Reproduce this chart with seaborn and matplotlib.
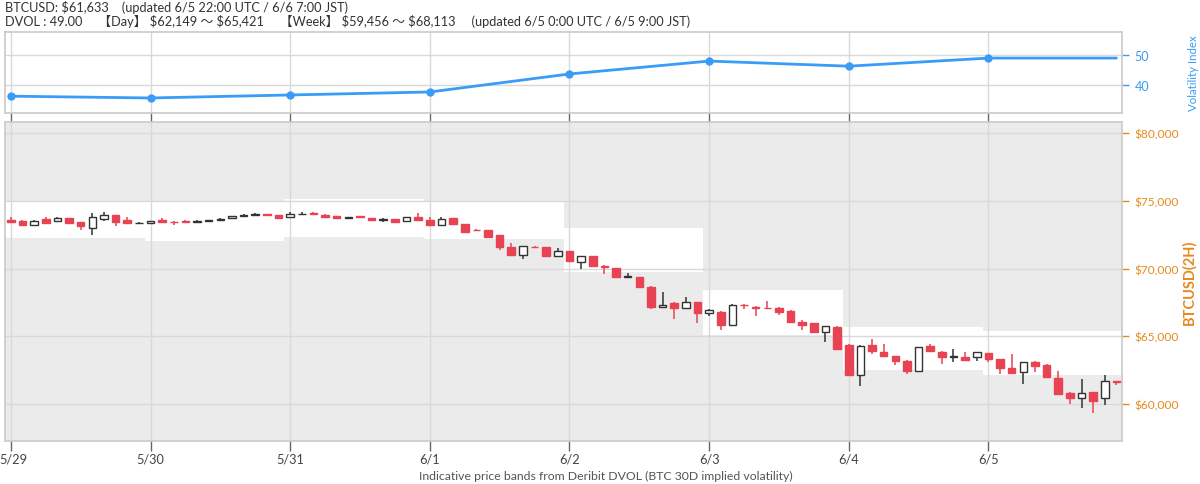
import numpy as np
import pandas as pd
import matplotlib
matplotlib.use("Agg")
import matplotlib.pyplot as plt
import matplotlib.ticker as mtick
import matplotlib.transforms as mtrans
import seaborn as sns

# --- data ---
day_labels = ['5/29', '5/30', '5/31', '6/1', '6/2', '6/3', '6/4', '6/5']
dvol = [36.3, 35.7, 36.7, 37.7, 43.7, 48.0, 46.3, 49.0]

# daily DVOL price bands (white boxes)
band_lo = [72220, 72060, 72330, 72190, 69730, 65120, 62510, 62149]
band_hi = [75010, 74940, 75130, 75020, 72980, 68420, 65660, 65421]

# 2H candles, 5/29 00:00 -> 6/5 22:00 UTC
opens = [73610, 73540, 73240, 73660, 73500, 73700, 73420, 72970, 73660, 73960, 73610, 73360,
         73370, 73590, 73470, 73540, 73440, 73540, 73600, 73710, 73860, 73990, 74000, 73930,
         73790, 74030, 74120, 73990, 73870, 73740, 73890, 73710, 73620, 73640, 73520, 73820,
         73610, 73220, 73740, 73290, 72850, 72830, 72460, 71570, 71030, 71600, 71560, 70900,
         71270, 70470, 70900, 70200, 70040, 69400, 69360, 68660, 67190, 67460, 67090, 67510,
         66700, 66820, 65860, 67330, 67160, 67100, 67070, 66890, 66080, 65960, 65340, 65710,
         64380, 62160, 64360, 63860, 63520, 63200, 62460, 64260, 63860, 63500, 63450, 63450,
         63785, 63320, 62630, 62340, 63070, 62900, 61890, 60810, 60420, 60860, 60420, 61700]
highs = [73810, 73560, 73560, 73830, 73790, 73720, 73440, 74110, 74200, 73980, 73770, 73440,
         73520, 73760, 73490, 73560, 73560, 73580, 73720, 73900, 74000, 74080, 74010, 73950,
         74200, 74150, 74140, 74000, 73890, 73840, 73910, 73730, 73700, 73660, 73800, 74080,
         73830, 73830, 73760, 73300, 72920, 72850, 72480, 71880, 71700, 71640, 71580, 71500,
         71300, 70960, 70920, 70230, 70060, 69650, 69380, 68680, 68240, 67550, 67870, 67530,
         66990, 66850, 67350, 67400, 67200, 67580, 67150, 66910, 66230, 65990, 65760, 65730,
         64400, 64330, 64800, 64420, 63540, 63220, 64210, 64430, 63880, 64060, 63820, 63830,
         63800, 63340, 63690, 63090, 63160, 62920, 62460, 60920, 61810, 60880, 62130, 61720]
lows = [73400, 73120, 73220, 73370, 73480, 73360, 72850, 72480, 73510, 73120, 73370, 73300,
        73330, 73470, 73200, 73400, 73430, 73520, 73580, 73700, 73840, 73960, 73920, 73750,
        73780, 73950, 73990, 73800, 73700, 73720, 73780, 73520, 73460, 73420, 73500, 73560,
        73210, 73200, 73280, 72680, 72780, 72350, 71380, 71000, 70680, 71520, 70950, 70880,
        70520, 69930, 70200, 69570, 69340, 69380, 68640, 67020, 67170, 66250, 67070, 66000,
        66480, 65440, 65840, 66980, 66520, 67050, 66600, 66010, 65500, 65320, 64600, 64060,
        62140, 61300, 63690, 63550, 62860, 62240, 62440, 63870, 62970, 63120, 63230, 63200,
        63080, 62200, 62250, 61490, 62340, 61950, 60720, 59980, 59720, 59310, 59940, 61400]
closes = [73420, 73230, 73540, 73380, 73720, 73370, 73120, 73780, 73980, 73420, 73380, 73390,
          73490, 73470, 73420, 73420, 73530, 73560, 73690, 73860, 73960, 74010, 73930, 73760,
          74060, 74040, 74000, 73810, 73720, 73820, 73790, 73570, 73640, 73440, 73790, 73580,
          73220, 73690, 73290, 72700, 72820, 72360, 71600, 71020, 71680, 71560, 70960, 71320,
          70540, 70950, 70210, 70140, 69360, 69440, 68660, 67140, 67340, 67090, 67510, 66700,
          66970, 65860, 67330, 67300, 67120, 67060, 66770, 66030, 65830, 65340, 65740, 64080,
          62160, 64310, 63940, 63570, 63200, 62460, 64190, 63890, 63450, 63540, 63250, 63820,
          63320, 62660, 62270, 63070, 62830, 61970, 60740, 60420, 60790, 60240, 61680, 61633]

BLUE = '#3a9cf7'
ORANGE = '#e68a1f'
RED = '#e84352'
GRID = '#d9d9d9'
SPINE = '#cccccc'

sns.set_theme(style='white')
plt.rcParams['font.family'] = ['Lato', 'Noto Sans CJK JP', 'DejaVu Sans']

day_hours = np.arange(len(day_labels)) * 24
hours = np.arange(len(opens)) * 2
xlim = (-1, hours[-1] + 1)

fig = plt.figure(figsize=(12, 4.85), dpi=100)
ax_v = fig.add_axes([0.0042, 0.765, 0.931, 0.167])
ax_p = fig.add_axes([0.0042, 0.0887, 0.931, 0.658])

# --- DVOL panel ---
dv = pd.DataFrame({'hour': list(day_hours) + [hours[-1]], 'dvol': dvol + [dvol[-1]]})
sns.lineplot(data=dv, x='hour', y='dvol', ax=ax_v, color=BLUE, linewidth=2,
             marker='o', markersize=6, markeredgewidth=0, markevery=list(range(len(dvol))))
ax_v.set_xlim(xlim)
ax_v.set_ylim(30.7, 57.7)
ax_v.set_xticks(day_hours)
ax_v.set_xticklabels([])
ax_v.set_yticks([40, 50])
ax_v.yaxis.tick_right()
ax_v.yaxis.set_label_position('right')
ax_v.set_xlabel('')
ax_v.set_ylabel('Volatility Index', color=BLUE, fontsize=8.3, labelpad=28)
ax_v.tick_params(axis='y', colors=BLUE, labelcolor=BLUE, length=5, width=1, labelsize=9, pad=4)
ax_v.tick_params(axis='x', colors='#666666', length=7, width=1, bottom=True)
ax_v.grid(True, color=GRID, linewidth=1)
ax_v.set_axisbelow(True)
for s in ax_v.spines.values():
    s.set_color(SPINE)

# --- price panel ---
ax_p.set_facecolor('#ebebeb')
ax_p.bar(day_hours - 1, np.array(band_hi) - np.array(band_lo), bottom=band_lo,
         width=24, align='edge', color='white', linewidth=0, zorder=0.2)

o = np.array(opens, dtype=float)
c = np.array(closes, dtype=float)
up = c >= o
fills = np.where(up, 'white', RED)
edges = np.where(up, '#333333', RED)
body_lo = np.minimum(o, c)
body_h = np.maximum(np.abs(c - o), 15)

ax_p.vlines(hours, lows, highs, colors=edges, linewidth=1.1, zorder=2)
ax_p.bar(hours, body_h, bottom=body_lo, width=1.3, color=fills, edgecolor=edges,
         linewidth=1, zorder=3)

ax_p.set_xlim(xlim)
ax_p.set_ylim(57270, 80830)
ax_p.set_xticks(day_hours, day_labels)
ax_p.set_yticks([60000, 65000, 70000, 75000, 80000])
ax_p.yaxis.set_major_formatter(mtick.StrMethodFormatter(r'\${x:,.0f}'))
ax_p.yaxis.tick_right()
ax_p.yaxis.set_label_position('right')
ax_p.set_ylabel('BTCUSD(2H)', color=ORANGE, fontsize=10.5, fontweight='bold', labelpad=2)
ax_p.tick_params(axis='y', colors=ORANGE, labelcolor=ORANGE, length=5, width=1, labelsize=8.6, pad=4)
ax_p.tick_params(axis='x', colors='#666666', labelcolor='#444444', length=7, width=1,
                 labelsize=9.2, pad=1.5, bottom=True)
ax_p.grid(True, color=GRID, linewidth=1)
ax_p.set_axisbelow(True)
for s in ax_p.spines.values():
    s.set_color(SPINE)

# keep the first date label inside the figure
first = ax_p.get_xticklabels()[0]
first.set_transform(first.get_transform() + mtrans.ScaledTranslation(3 / 100, 0, fig.dpi_scale_trans))

fig.text(606 / 1200, 0.006, 'Indicative price bands from Deribit DVOL (BTC 30D implied volatility)',
         ha='center', va='bottom', fontsize=8.8, color='#555555')

fig.text(0.004, 0.998, r'BTCUSD: \$61,633    (updated 6/5 22:00 UTC / 6/6 7:00 JST)',
         ha='left', va='top', fontsize=9.2, color='#333333')
fig.text(0.004, 0.969,
         r'DVOL : 49.00 　【Day】 \$62,149 ～ \$65,421 　【Week】 \$59,456 ～ \$68,113 　(updated 6/5 0:00 UTC / 6/5 9:00 JST)',
         ha='left', va='top', fontsize=9.2, color='#333333')

fig.savefig('out.png', dpi=100)
